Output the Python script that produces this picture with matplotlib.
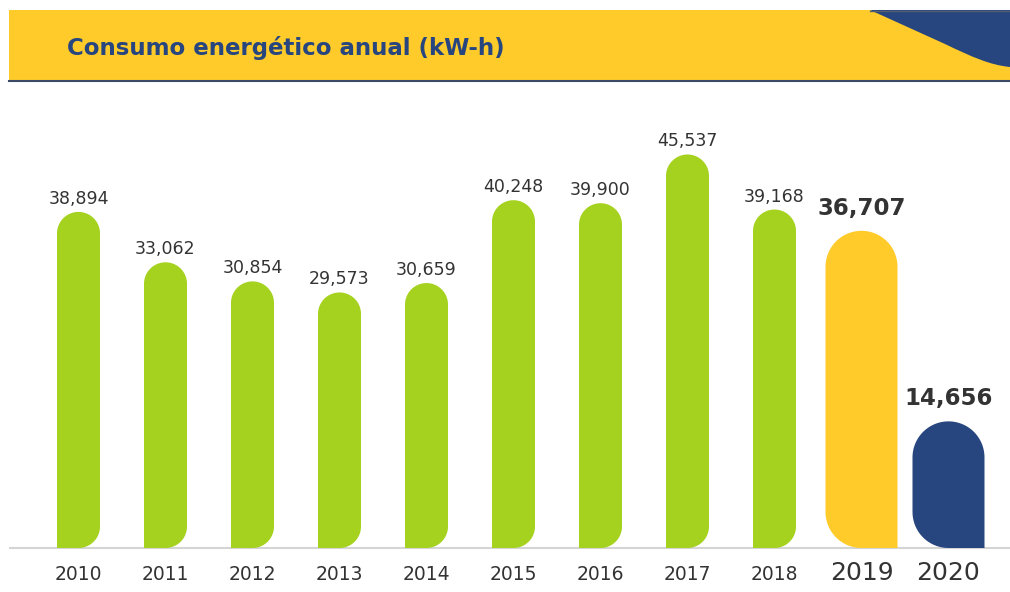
import numpy as np
import matplotlib.pyplot as plt
from matplotlib.patches import Polygon, Rectangle, PathPatch
from matplotlib.path import Path

# Data
years = ['2010', '2011', '2012', '2013', '2014', '2015', '2016', '2017', '2018', '2019', '2020']
consumo = [38894, 33062, 30854, 29573, 30659, 40248, 39900, 45537, 39168, 36707, 14656]
highlight = ['2019', '2020']

green = '#a5d11f'
yellow = '#fecb2a'
navy = '#27457f'
text_col = '#333333'

W, H = 1010, 592
fig = plt.figure(figsize=(W / 100, H / 100), dpi=100)
fig.patch.set_facecolor('white')

# header band
fig.patches.append(Rectangle((9 / W, 1 - 80 / H), 1 - 9 / W, 70 / H, transform=fig.transFigure,
                             facecolor=yellow, edgecolor='none', zorder=0))
fig.add_artist(plt.Line2D([9 / W, 1], [1 - 80.5 / H, 1 - 80.5 / H], transform=fig.transFigure,
                          color='#3d4a68', lw=1.5))
# blue swoosh in the corner
verts = [(870, 10), (945, 44), (972, 57), (990, 65), (1010, 67), (1010, 10), (870, 10)]
codes = [Path.MOVETO, Path.LINETO, Path.CURVE4, Path.CURVE4, Path.CURVE4, Path.LINETO, Path.CLOSEPOLY]
verts = [(x / W, 1 - y / H) for x, y in verts]
fig.patches.append(PathPatch(Path(verts, codes), transform=fig.transFigure,
                             facecolor=navy, edgecolor='none', zorder=1))
fig.add_artist(plt.Line2D([870 / W, 1], [1 - 10.5 / H, 1 - 10.5 / H], transform=fig.transFigure,
                          color='#55606e', lw=1))
fig.text(67 / W, 1 - 48 / H, 'Consumo energético anual (kW-h)', color=navy,
         fontsize=16.5, fontweight='bold', family='DejaVu Sans', va='center', ha='left')

# chart area: baseline at y=548px, one category every 87px
ax = fig.add_axes([35 / W, (H - 548) / H, 957 / W, 458 / H])
ax.set_xlim(-0.5, len(years) - 0.5)
ax.set_ylim(0, 53000)
ax.axis('off')

fig.add_artist(plt.Line2D([10 / W, 1], [(H - 548) / H, (H - 548) / H], transform=fig.transFigure,
                          color='#d4d4d4', lw=1.5, zorder=0))

sx = 957 / len(years)          # px per x unit
sy = 458 / 53000               # px per y unit


def pill(xc, w, h, round_right):
    rx = w / 2
    ry = (w * sx / 2) / sy
    ry = min(ry, h)
    x0, x1 = xc - rx, xc + rx
    t_top = np.linspace(np.pi, 0, 40)
    top = np.column_stack([xc + rx * np.cos(t_top), h - ry + ry * np.sin(t_top)])
    if round_right:
        t = np.linspace(0, -np.pi / 2, 20)
        corner = np.column_stack([xc + rx * np.cos(t), ry + ry * np.sin(t)])
        pts = np.vstack([[[x0, 0], [x0, h - ry]], top, [[x1, ry]], corner])
    else:
        t = np.linspace(-np.pi / 2, -np.pi, 20)
        corner = np.column_stack([xc + rx * np.cos(t), ry + ry * np.sin(t)])
        pts = np.vstack([[[x0, h - ry]], top, [[x1, 0]], corner])
    return pts


for i, (yr, v) in enumerate(zip(years, consumo)):
    if yr in highlight:
        w = 72 / sx
        col = yellow if yr == '2019' else navy
        ax.add_patch(Polygon(pill(i, w, v, False), closed=True, facecolor=col, edgecolor='none'))
        ax.annotate(f'{v:,}', (i, v), xytext=(0, 11), textcoords='offset pixels', ha='center',
                    va='bottom', fontsize=16.5, fontweight='bold', color=text_col, family='DejaVu Sans')
        ax.annotate(yr, (i, 0), xytext=(0, -25), textcoords='offset pixels', ha='center',
                    va='center', fontsize=18, color=text_col, family='DejaVu Sans')
    else:
        w = 43 / sx
        ax.add_patch(Polygon(pill(i, w, v, True), closed=True, facecolor=green, edgecolor='none'))
        ax.annotate(f'{v:,}', (i, v), xytext=(0, 4), textcoords='offset pixels', ha='center',
                    va='bottom', fontsize=12.5, color=text_col, family='DejaVu Sans')
        ax.annotate(yr, (i, 0), xytext=(0, -26), textcoords='offset pixels', ha='center',
                    va='center', fontsize=13.5, color=text_col, family='DejaVu Sans')

fig.savefig('out.png', dpi=100)
